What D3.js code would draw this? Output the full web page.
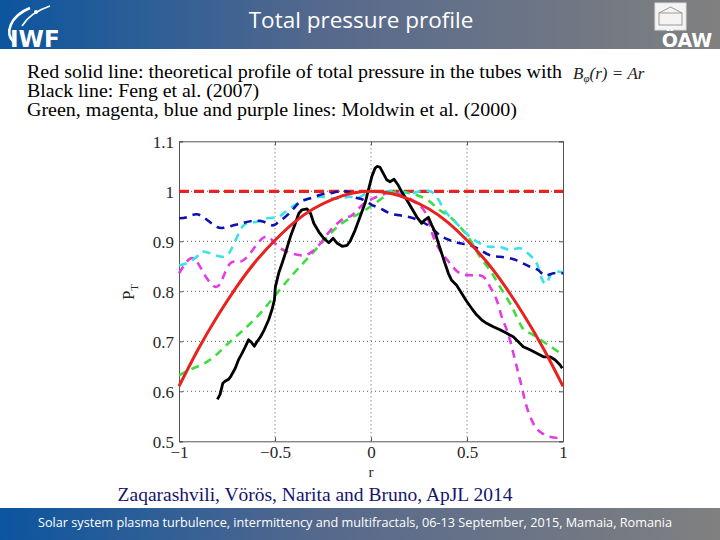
<!DOCTYPE html>
<html><head><meta charset="utf-8">
<script src="https://cdn.jsdelivr.net/npm/d3@7"></script>
<style>body{margin:0;background:#fff}svg{display:block}</style>
</head><body>
<script>
// ---- data ----
const xTicks = [-1, -0.5, 0, 0.5, 1];
const xTickLabels = ["\u22121", "\u22120.5", "0", "0.5", "1"];
const yTicks = [0.5, 0.6, 0.7, 0.8, 0.9, 1, 1.1];
const yTickLabels = ["0.5", "0.6", "0.7", "0.8", "0.9", "1", "1.1"];

const redSolid = [[-1,0.61],[-0.9,0.684],[-0.8,0.75],[-0.7,0.809],[-0.6,0.86],[-0.5,0.902],[-0.4,0.938],[-0.3,0.965],[-0.2,0.984],[-0.1,0.996],[0,1.0],[0.1,0.996],[0.2,0.984],[0.3,0.965],[0.4,0.938],[0.5,0.902],[0.6,0.86],[0.7,0.809],[0.8,0.75],[0.9,0.684],[1,0.61]];
const redDashed = [[-1,1.0],[1,1.0]];
const black = [[-0.8,0.584],[-0.786,0.594],[-0.772,0.616],[-0.76,0.62],[-0.742,0.624],[-0.73,0.63],[-0.707,0.646],[-0.69,0.663],[-0.672,0.676],[-0.655,0.689],[-0.638,0.703],[-0.625,0.699],[-0.608,0.69],[-0.594,0.699],[-0.577,0.708],[-0.556,0.723],[-0.533,0.743],[-0.516,0.763],[-0.503,0.783],[-0.498,0.809],[-0.481,0.836],[-0.463,0.856],[-0.446,0.876],[-0.42,0.909],[-0.394,0.936],[-0.376,0.956],[-0.359,0.963],[-0.333,0.965],[-0.315,0.956],[-0.298,0.936],[-0.272,0.919],[-0.246,0.906],[-0.22,0.897],[-0.197,0.906],[-0.176,0.896],[-0.15,0.89],[-0.124,0.892],[-0.109,0.9],[-0.083,0.922],[-0.057,0.949],[-0.031,0.976],[-0.014,1.002],[0.004,1.029],[0.021,1.046],[0.033,1.05],[0.047,1.048],[0.064,1.036],[0.082,1.023],[0.099,1.019],[0.12,1.024],[0.142,1.012],[0.16,0.999],[0.186,0.983],[0.212,0.966],[0.238,0.949],[0.264,0.936],[0.281,0.943],[0.299,0.948],[0.316,0.933],[0.333,0.919],[0.351,0.896],[0.368,0.876],[0.385,0.856],[0.403,0.836],[0.42,0.822],[0.446,0.812],[0.472,0.796],[0.498,0.78],[0.524,0.766],[0.55,0.753],[0.576,0.743],[0.602,0.736],[0.637,0.729],[0.672,0.723],[0.707,0.716],[0.741,0.709],[0.767,0.699],[0.793,0.689],[0.828,0.683],[0.863,0.676],[0.898,0.669],[0.932,0.669],[0.958,0.663],[0.984,0.653],[0.996,0.646]];
const green = [[-1,0.632],[-0.925,0.646],[-0.838,0.663],[-0.751,0.693],[-0.664,0.723],[-0.577,0.756],[-0.49,0.796],[-0.402,0.836],[-0.315,0.872],[-0.228,0.909],[-0.141,0.939],[-0.057,0.956],[-0.005,0.969],[0.047,0.983],[0.099,0.996],[0.151,1.0],[0.203,0.996],[0.255,0.99],[0.307,0.979],[0.359,0.962],[0.411,0.949],[0.463,0.929],[0.516,0.903],[0.568,0.869],[0.62,0.842],[0.672,0.809],[0.724,0.776],[0.75,0.756],[0.785,0.729],[0.811,0.719],[0.845,0.713],[0.898,0.699],[0.95,0.686],[0.997,0.673]];
const cyan = [[-1,0.852],[-0.96,0.856],[-0.908,0.869],[-0.882,0.879],[-0.838,0.876],[-0.768,0.869],[-0.725,0.886],[-0.681,0.922],[-0.646,0.936],[-0.594,0.939],[-0.542,0.946],[-0.49,0.948],[-0.455,0.956],[-0.411,0.969],[-0.368,0.979],[-0.315,0.986],[-0.263,0.989],[-0.211,0.986],[-0.159,0.986],[-0.106,0.989],[-0.074,0.986],[-0.022,0.996],[0.03,1.0],[0.082,1.0],[0.134,1.0],[0.203,0.996],[0.255,1.0],[0.307,1.0],[0.342,0.989],[0.377,0.966],[0.411,0.949],[0.463,0.929],[0.516,0.909],[0.568,0.896],[0.62,0.889],[0.672,0.889],[0.724,0.883],[0.776,0.886],[0.828,0.872],[0.863,0.856],[0.889,0.826],[0.915,0.816],[0.941,0.836],[0.984,0.839],[1.0,0.837]];
const blue = [[-1,0.946],[-0.96,0.948],[-0.908,0.954],[-0.855,0.943],[-0.803,0.929],[-0.768,0.927],[-0.716,0.932],[-0.664,0.937],[-0.611,0.941],[-0.559,0.939],[-0.516,0.932],[-0.49,0.936],[-0.455,0.946],[-0.411,0.962],[-0.368,0.979],[-0.315,0.986],[-0.263,0.993],[-0.211,0.996],[-0.159,1.0],[-0.106,0.997],[-0.092,0.989],[-0.04,0.983],[0.004,0.973],[0.047,0.966],[0.099,0.956],[0.151,0.952],[0.203,0.948],[0.255,0.941],[0.307,0.929],[0.359,0.912],[0.411,0.902],[0.463,0.896],[0.516,0.892],[0.568,0.883],[0.62,0.872],[0.672,0.869],[0.724,0.866],[0.776,0.859],[0.828,0.849],[0.872,0.842],[0.906,0.832],[0.95,0.836],[1.0,0.836]];
const magenta = [[-1,0.836],[-0.96,0.859],[-0.925,0.866],[-0.89,0.849],[-0.855,0.826],[-0.812,0.809],[-0.777,0.822],[-0.733,0.856],[-0.681,0.859],[-0.629,0.876],[-0.577,0.902],[-0.533,0.908],[-0.49,0.892],[-0.437,0.879],[-0.368,0.872],[-0.315,0.877],[-0.263,0.896],[-0.211,0.922],[-0.141,0.946],[-0.106,0.95],[-0.074,0.962],[-0.022,0.979],[0.03,0.989],[0.082,0.996],[0.134,0.996],[0.186,0.989],[0.238,0.976],[0.281,0.959],[0.307,0.932],[0.325,0.909],[0.359,0.882],[0.411,0.856],[0.463,0.836],[0.533,0.832],[0.585,0.829],[0.62,0.809],[0.655,0.782],[0.681,0.749],[0.707,0.723],[0.733,0.689],[0.759,0.649],[0.785,0.609],[0.811,0.569],[0.845,0.536],[0.88,0.519],[0.932,0.509],[0.997,0.506]];

// ---- layout ----
const W = 720, H = 540;
const svg = d3.select("body").append("svg").attr("width", W).attr("height", H);
const defs = svg.append("defs");
const grad = defs.append("linearGradient").attr("id","bar").attr("x1","0").attr("x2","1").attr("y1","0").attr("y2","0");
grad.append("stop").attr("offset","0").attr("stop-color","#0b559f");
grad.append("stop").attr("offset","0.45").attr("stop-color","#56698c");
grad.append("stop").attr("offset","1").attr("stop-color","#808080");

// header
svg.append("rect").attr("x",0).attr("y",0).attr("width",W).attr("height",49).attr("fill","url(#bar)");
svg.append("text").attr("x",361).attr("y",28).attr("text-anchor","middle")
  .attr("font-family","'Open Sans', sans-serif").attr("font-size",22.5).attr("fill","#fff")
  .text("Total pressure profile");
// IWF logo
const logo = svg.append("g");
logo.append("path").attr("d","M14,42 C4,34 10,16 30,8").attr("fill","none").attr("stroke","#fff").attr("stroke-width",2.6);
logo.append("path").attr("d","M22,26 C28,16 38,10 50,6").attr("fill","none").attr("stroke","#fff").attr("stroke-width",1.6);
logo.append("circle").attr("cx",36).attr("cy",12).attr("r",2).attr("fill","#fff");
logo.append("text").attr("x",10).attr("y",47).attr("font-family","'DejaVu Sans', sans-serif").attr("font-weight","bold")
  .attr("font-size",23).attr("fill","#fff").text("IWF");
// OAW logo
const oaw = svg.append("g");
oaw.append("rect").attr("x",655).attr("y",3).attr("width",31).attr("height",27).attr("fill","#f4f4f4").attr("stroke","#ddd");
oaw.append("rect").attr("x",659).attr("y",13).attr("width",23).attr("height",12).attr("fill","none").attr("stroke","#999").attr("stroke-width",1);
oaw.append("path").attr("d","M659,13 L670.5,7 L682,13").attr("fill","none").attr("stroke","#999");
oaw.append("text").attr("x",687).attr("y",47).attr("text-anchor","middle").attr("font-family","'DejaVu Sans', sans-serif")
  .attr("font-weight","bold").attr("font-size",19).attr("fill","#fff").text("\u00d6AW");

// description lines
const desc = svg.append("g").attr("font-family","'Liberation Serif', serif").attr("font-size",18.5).attr("fill","#000");
desc.append("text").attr("x",27).attr("y",78).attr("textLength",535).attr("lengthAdjust","spacingAndGlyphs")
  .text("Red solid line: theoretical profile of total pressure in the tubes with");
desc.append("text").attr("x",27).attr("y",97).attr("textLength",232).attr("lengthAdjust","spacingAndGlyphs")
  .text("Black line: Feng et al. (2007)");
desc.append("text").attr("x",27).attr("y",116).attr("textLength",490).attr("lengthAdjust","spacingAndGlyphs")
  .text("Green, magenta, blue and purple lines: Moldwin et al. (2000)");
const f = svg.append("text").attr("x",573).attr("y",79).attr("font-family","'Liberation Serif', serif").attr("font-size",17).attr("font-style","italic").attr("fill","#222");
f.append("tspan").text("B");
f.append("tspan").attr("font-size",11).attr("dy",3).text("\u03c6");
f.append("tspan").attr("dy",-3).text("(r) = Ar");

// plot
const x = d3.scaleLinear().domain([-1,1]).range([179,563]);
const y = d3.scaleLinear().domain([0.5,1.1]).range([441.3,141.3]);
const plot = svg.append("g");
// grid
plot.append("g").selectAll("line").data(xTicks.slice(1,-1)).join("line")
  .attr("x1",d=>x(d)).attr("x2",d=>x(d)).attr("y1",y(0.5)).attr("y2",y(1.1))
  .attr("stroke","#333").attr("stroke-width",0.8).attr("stroke-dasharray","1,3");
plot.append("g").selectAll("line").data(yTicks.slice(1,-1)).join("line")
  .attr("y1",d=>y(d)).attr("y2",d=>y(d)).attr("x1",x(-1)).attr("x2",x(1))
  .attr("stroke","#333").attr("stroke-width",0.8).attr("stroke-dasharray","1,3");

const xAxis = d3.axisBottom(x).tickValues(xTicks).tickFormat((d,i)=>xTickLabels[i]).tickSize(-4).tickPadding(5);
const yAxis = d3.axisLeft(y).tickValues(yTicks).tickFormat((d,i)=>yTickLabels[i]).tickSize(-4).tickPadding(5);
const gx = plot.append("g").attr("transform",`translate(0,${y(0.5)})`).call(xAxis);
const gy = plot.append("g").attr("transform",`translate(${x(-1)},0)`).call(yAxis);
const gx2 = plot.append("g").attr("transform",`translate(0,${y(1.1)})`).call(d3.axisTop(x).tickValues(xTicks).tickFormat("").tickSize(-4));
const gy2 = plot.append("g").attr("transform",`translate(${x(1)},0)`).call(d3.axisRight(y).tickValues(yTicks).tickFormat("").tickSize(-4));
[gx,gy,gx2,gy2].forEach(g=>{
  g.selectAll("path").attr("stroke","#555").attr("stroke-width",1);
  g.selectAll("line").attr("stroke","#555");
  g.selectAll("text").attr("font-family","'Liberation Serif', serif").attr("font-size",17).attr("fill","#262626");
});
gy.selectAll("text").attr("dy","0.35em");

// axis labels
svg.append("text").attr("x",371).attr("y",477).attr("text-anchor","middle")
  .attr("font-family","'Liberation Serif', serif").attr("font-size",15).attr("fill","#262626").text("r");
const yl = svg.append("text").attr("transform","translate(134,292) rotate(-90)").attr("text-anchor","middle")
  .attr("font-family","'Liberation Serif', serif").attr("font-size",17).attr("fill","#262626");
yl.append("tspan").text("P");
yl.append("tspan").attr("font-size",11).attr("dy",4).text("T");

const line = d3.line().x(d=>x(d[0])).y(d=>y(d[1]));
const smooth = d3.line().x(d=>x(d[0])).y(d=>y(d[1])).curve(d3.curveNatural);
const series = [
  {d: redDashed, c:"#e8221e", w:3.2, dash:"10,5", gen: line},
  {d: green, c:"#3fdc3f", w:2.6, dash:"8,6", gen: smooth},
  {d: magenta, c:"#e23ce2", w:2.6, dash:"8,6", gen: smooth},
  {d: cyan, c:"#38e2ea", w:2.6, dash:"8,6", gen: smooth},
  {d: blue, c:"#1010b0", w:2.6, dash:"8,6", gen: smooth},
  {d: black, c:"#000", w:2.8, dash:null, gen: line},
  {d: redSolid, c:"#e8221e", w:3, dash:null, gen: smooth},
];
plot.append("g").selectAll("path").data(series).join("path")
  .attr("d",s=>s.gen(s.d)).attr("fill","none").attr("stroke",s=>s.c).attr("stroke-width",s=>s.w)
  .attr("stroke-dasharray",s=>s.dash).attr("stroke-linejoin","round");

// citation
svg.append("text").attr("x",315).attr("y",501).attr("text-anchor","middle")
  .attr("font-family","'Liberation Serif', serif").attr("font-size",19.5).attr("fill","#14146e")
  .text("Zaqarashvili, V\u00f6r\u00f6s, Narita and Bruno, ApJL 2014");

// footer
svg.append("rect").attr("x",0).attr("y",508).attr("width",W).attr("height",32).attr("fill","url(#bar)");
svg.append("text").attr("x",38).attr("y",527)
  .attr("font-family","'Open Sans', sans-serif").attr("font-size",12.5).attr("fill","#fff")
  .attr("textLength",634).attr("lengthAdjust","spacingAndGlyphs")
  .text("Solar system plasma turbulence, intermittency and multifractals, 06-13 September, 2015, Mamaia, Romania");
</script>
</body></html>
